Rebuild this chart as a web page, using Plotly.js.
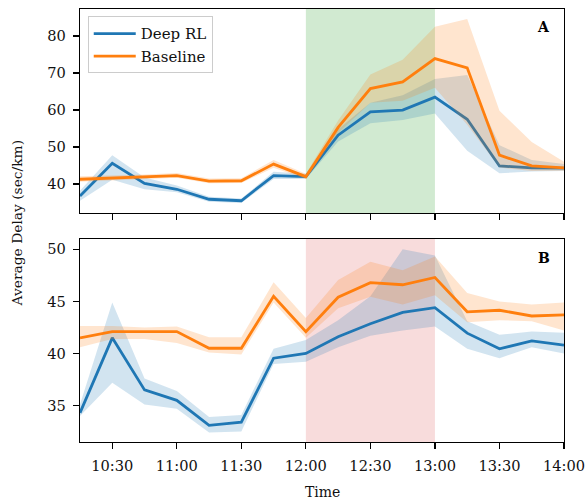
<!DOCTYPE html>
<html>
<head>
<meta charset="utf-8">
<script src="https://cdn.plot.ly/plotly-3.0.1.min.js"></script>
<style>
  html, body { margin: 0; padding: 0; background: #fff; }
  #chart { width: 587px; height: 502px; }
</style>
</head>
<body>
<div id="chart"></div>
<script>
// Sample times (15-minute intervals)
const times = ['10:15','10:30','10:45','11:00','11:15','11:30','11:45','12:00',
               '12:15','12:30','12:45','13:00','13:15','13:30','13:45','14:00'];

// Scenario A: mean delay and spread
const rlA     = [36.8, 45.6, 40.2, 38.6, 35.9, 35.5, 42.3, 42.0, 53.2, 59.5, 60.0, 63.5, 57.5, 44.9, 44.4, 44.3];
const rlALo   = [35.5, 41.2, 38.6, 37.8, 35.2, 34.9, 41.4, 41.4, 51.5, 56.4, 57.3, 59.1, 49.0, 42.9, 43.4, 43.5];
const rlAHi   = [38.2, 47.8, 41.8, 39.6, 36.6, 36.1, 43.3, 42.8, 54.8, 62.0, 64.0, 68.4, 69.5, 50.5, 46.5, 45.4];
const baseA   = [41.3, 41.6, 41.9, 42.3, 40.8, 40.9, 45.4, 42.0, 55.3, 65.8, 67.6, 73.9, 71.4, 47.8, 44.9, 44.4];
const baseALo = [40.6, 40.9, 41.3, 41.7, 40.2, 40.3, 44.4, 41.4, 53.8, 62.0, 62.5, 66.0, 56.0, 44.5, 43.5, 43.6];
const baseAHi = [42.1, 42.3, 42.6, 43.0, 41.5, 41.6, 46.5, 42.8, 57.2, 69.6, 73.6, 82.5, 84.6, 59.8, 51.4, 46.0];

// Scenario B: mean delay and spread
const rlB     = [34.3, 41.5, 36.5, 35.5, 33.1, 33.4, 39.55, 40.0, 41.6, 42.85, 43.95, 44.4, 41.95, 40.45, 41.2, 40.8];
const rlBLo   = [34.0, 37.2, 35.1, 34.7, 32.4, 32.5, 39.0, 39.2, 40.6, 41.7, 42.2, 42.6, 40.45, 39.55, 40.6, 40.0];
const rlBHi   = [35.1, 44.9, 37.6, 36.4, 33.9, 34.1, 40.45, 41.3, 43.2, 45.5, 50.0, 49.4, 43.1, 41.8, 42.1, 42.0];
const baseB   = [41.5, 42.1, 42.1, 42.1, 40.5, 40.5, 45.5, 42.1, 45.4, 46.8, 46.6, 47.3, 44.0, 44.15, 43.6, 43.7];
const baseBLo = [40.6, 41.4, 41.4, 41.0, 40.1, 39.9, 44.9, 41.5, 44.35, 45.45, 44.7, 45.6, 43.0, 43.2, 43.1, 42.2];
const baseBHi = [42.65, 42.65, 42.5, 42.6, 41.55, 41.55, 46.85, 43.4, 47.05, 48.8, 48.0, 49.3, 45.8, 45.0, 44.7, 44.9];

// Highlighted peak window
const peakStart = '12:00';
const peakEnd = '13:00';

const seriesNames = ['Deep RL', 'Baseline'];

const DAY = '2020-01-01 ';
const x = times.map(t => DAY + t);

const BLUE = '#1f77b4', ORANGE = '#ff7f0e';
const BLUE_FILL = 'rgba(31,119,180,0.2)', ORANGE_FILL = 'rgba(255,127,14,0.2)';

function band(lo, hi, fill, xa, ya) {
  return [
    { x, y: hi, xaxis: xa, yaxis: ya, mode: 'lines', line: { width: 0 },
      showlegend: false, hoverinfo: 'skip' },
    { x, y: lo, xaxis: xa, yaxis: ya, mode: 'lines', line: { width: 0 },
      fill: 'tonexty', fillcolor: fill, showlegend: false, hoverinfo: 'skip' }
  ];
}
function line(y, color, name, xa, ya, legend) {
  return { x, y, xaxis: xa, yaxis: ya, mode: 'lines', name,
           line: { color, width: 2.8 }, showlegend: legend };
}

const data = [
  ...band(rlALo, rlAHi, BLUE_FILL, 'x', 'y'),
  line(rlA, BLUE, seriesNames[0], 'x', 'y', true),
  ...band(baseALo, baseAHi, ORANGE_FILL, 'x', 'y'),
  line(baseA, ORANGE, seriesNames[1], 'x', 'y', true),
  ...band(rlBLo, rlBHi, BLUE_FILL, 'x2', 'y2'),
  line(rlB, BLUE, seriesNames[0], 'x2', 'y2', false),
  ...band(baseBLo, baseBHi, ORANGE_FILL, 'x2', 'y2'),
  line(baseB, ORANGE, seriesNames[1], 'x2', 'y2', false)
];

const FONT = 'DejaVu Serif';
const xRange = [DAY + times[0], DAY + times[times.length - 1]];

const xCommon = {
  type: 'date', range: xRange, tickformat: '%H:%M',
  tick0: DAY + '10:30', dtick: 30 * 60 * 1000,
  ticks: 'outside', ticklen: 6, tickwidth: 1.2, tickcolor: '#000',
  showline: true, linecolor: '#000', linewidth: 1.2, mirror: true,
  showgrid: false, zeroline: false, ticklabelstandoff: 4,
  tickfont: { family: FONT, size: 14.6, color: '#111' }
};
const yCommon = {
  ticks: 'outside', ticklen: 6, tickwidth: 1.2, tickcolor: '#000',
  showline: true, linecolor: '#000', linewidth: 1.2, mirror: true,
  showgrid: false, zeroline: false, ticklabelstandoff: 4,
  tickfont: { family: FONT, size: 14.6, color: '#111' }
};

const layout = {
  width: 587, height: 502,
  margin: { l: 80, r: 23, t: 9, b: 60 },
  paper_bgcolor: '#fff', plot_bgcolor: '#fff',
  font: { family: FONT, size: 14, color: '#111' },
  xaxis: Object.assign({}, xCommon, { anchor: 'y', showticklabels: false, matches: 'x2' }),
  yaxis: Object.assign({}, yCommon, { domain: [0.529, 1], range: [32.2, 87.3],
                                      tickvals: [40, 50, 60, 70, 80] }),
  xaxis2: Object.assign({}, xCommon, { anchor: 'y2' }),
  yaxis2: Object.assign({}, yCommon, { domain: [0, 0.469], range: [31.5, 51.0],
                                       tickvals: [35, 40, 45, 50] }),
  showlegend: true,
  legend: {
    x: 0.016, y: 0.983, xanchor: 'left', yanchor: 'top',
    traceorder: 'normal', itemwidth: 42,
    bgcolor: 'rgba(255,255,255,0.85)', bordercolor: '#cccccc', borderwidth: 1,
    font: { family: FONT, size: 15, color: '#111' }
  },
  shapes: [
    { type: 'rect', xref: 'x', yref: 'y domain', x0: DAY + peakStart, x1: DAY + peakEnd,
      y0: 0, y1: 1, fillcolor: 'rgba(44,160,44,0.22)', line: { width: 0 }, layer: 'below' },
    { type: 'rect', xref: 'x2', yref: 'y2 domain', x0: DAY + peakStart, x1: DAY + peakEnd,
      y0: 0, y1: 1, fillcolor: 'rgba(214,39,40,0.16)', line: { width: 0 }, layer: 'below' }
  ],
  annotations: [
    { text: '<b>A</b>', xref: 'x domain', yref: 'y domain', x: 0.975, y: 0.96,
      xanchor: 'right', yanchor: 'top', showarrow: false,
      font: { family: FONT, size: 14, color: '#000' } },
    { text: '<b>B</b>', xref: 'x2 domain', yref: 'y2 domain', x: 0.975, y: 0.955,
      xanchor: 'right', yanchor: 'top', showarrow: false,
      font: { family: FONT, size: 14, color: '#000' } },
    { text: 'Average Delay (sec/km)', xref: 'paper', yref: 'paper', x: -0.130, y: 0.505,
      xanchor: 'center', yanchor: 'middle', textangle: -90, showarrow: false,
      font: { family: FONT, size: 13.8, color: '#111' } },
    { text: 'Time', xref: 'paper', yref: 'paper', x: 0.5, y: -0.1155,
      xanchor: 'center', yanchor: 'middle', showarrow: false,
      font: { family: FONT, size: 14, color: '#111' } }
  ]
};

Plotly.newPlot('chart', data, layout, { displayModeBar: false, staticPlot: true });
</script>
</body>
</html>
